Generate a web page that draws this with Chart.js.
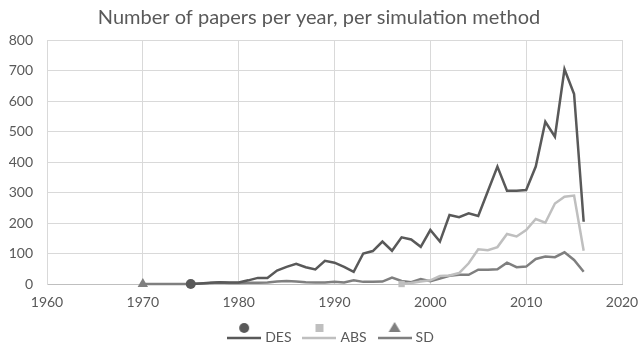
<!DOCTYPE html>
<html>
<head>
<meta charset="utf-8">
<script src="https://cdn.jsdelivr.net/npm/chart.js@4.4.1/dist/chart.umd.min.js"></script>
<style>
html,body{margin:0;padding:0;background:#fff;}
#wrap{width:638px;height:348px;}
</style>
</head>
<body>
<div id="wrap"><canvas id="c" width="638" height="348"></canvas></div>
<script>
const titleText = "Number of papers per year, per simulation method";
const seriesNames = ["DES", "ABS", "SD"];
const xTicks = [1960, 1970, 1980, 1990, 2000, 2010, 2020];
const yTicks = [0, 100, 200, 300, 400, 500, 600, 700, 800];

const desStartYear = 1975;
const desValues = [0,2,4,6,5,5,12,20,20,44,56,66,55,48,76,70,56,40,100,108,139,109,153,146,122,177,139,226,219,232,223,304,385,306,306,308,385,532,483,704,623,204];
const absStartYear = 1997;
const absValues = [0,3,8,12,26,28,36,68,114,111,121,164,156,177,213,201,264,286,290,109];
const sdStartYear = 1970;
const sdValues = [0,0,0,0,0,0,2,3,5,3,3,4,4,5,8,10,8,6,5,5,7,5,12,7,7,8,21,10,6,16,9,18,27,30,30,47,47,48,70,55,57,82,90,88,104,79,40];

const colors = ["#595959", "#bfbfbf", "#7f7f7f"];
const markers = ["circle", "rect", "triangle"];
const markerR = [5, 4.5, 6];

function toPoints(start, vals){ return vals.map((v,i)=>({x:start+i, y:v})); }

function legendIcon(color, marker){
  const c = document.createElement('canvas');
  c.width = 34; c.height = 30;
  const g = c.getContext('2d');
  g.strokeStyle = color; g.lineWidth = 2.5;
  g.beginPath(); g.moveTo(0, 16); g.lineTo(34, 16); g.stroke();
  g.fillStyle = color;
  g.beginPath();
  if (marker === 'circle') { g.arc(17, 6, 5, 0, Math.PI*2); }
  else if (marker === 'rect') { g.rect(13, 2, 8, 8); }
  else { g.moveTo(17, 0); g.lineTo(23, 10); g.lineTo(11, 10); g.closePath(); }
  g.fill();
  return c;
}

const data = [toPoints(desStartYear, desValues), toPoints(absStartYear, absValues), toPoints(sdStartYear, sdValues)];

const datasets = seriesNames.map((n, i) => ({
  label: n,
  data: data[i],
  borderColor: colors[i],
  backgroundColor: colors[i],
  borderWidth: 2.5,
  pointStyle: markers[i],
  pointRadius: ctx => ctx.dataIndex === 0 ? markerR[i] : 0,
  pointHoverRadius: 0,
  pointBorderWidth: 0,
  tension: 0,
  clip: false
}));

const font = "Lato, 'Open Sans', sans-serif";

const layoutFix = {
  id: 'layoutFix',
  beforeLayout(chart) {
    const lg = chart.legend;
    if (lg && !lg._patched) {
      const f = lg.fit;
      lg.fit = function(){ f.call(this); this.height = 34; };
      lg._patched = true;
    }
  },
  afterLayout(chart) {
    const lg = chart.legend;
    if (lg) { lg.left += 13; lg.right += 13; lg.top += 2; lg.bottom += 2; }
  }
};

new Chart(document.getElementById('c'), {
  type: 'line',
  data: { datasets },
  plugins: [layoutFix],
  options: {
    responsive: false,
    animation: false,
    events: [],
    layout: { padding: { left: 0, right: 0, top: 0, bottom: 0 } },
    plugins: {
      title: {
        display: true, text: titleText, color: "#595959",
        font: { family: font, size: 20, weight: 'normal' },
        padding: { top: 6, bottom: 10 }
      },
      legend: {
        position: 'bottom',
        labels: {
          usePointStyle: true,
          pointStyleWidth: 28,
          color: "#595959",
          font: { family: font, size: 14 },
          padding: 14,
          generateLabels: chart => chart.data.datasets.map((d, i) => ({
            text: d.label, fillStyle: colors[i], strokeStyle: colors[i],
            pointStyle: legendIcon(colors[i], markers[i]), lineWidth: 0,
            hidden: false, datasetIndex: i, fontColor: "#595959"
          }))
        }
      },
      tooltip: { enabled: false }
    },
    scales: {
      x: {
        type: 'linear', min: xTicks[0], max: xTicks[xTicks.length-1],
        afterBuildTicks: s => { s.ticks = xTicks.map(v => ({value: v})); },
        afterFit: s => { s.height = 30; s.paddingRight = 16; s.paddingLeft = 0; },
        ticks: { color: "#595959", font: { family: font, size: 14 }, padding: 10, callback: v => String(v), maxRotation: 0 },
        grid: { color: "#d9d9d9", drawTicks: false },
        border: { color: "#bfbfbf" }
      },
      y: {
        min: yTicks[0], max: yTicks[yTicks.length-1],
        afterBuildTicks: s => { s.ticks = yTicks.map(v => ({value: v})); },
        afterFit: s => { s.width = 47; },
        ticks: { color: "#595959", font: { family: font, size: 14 }, padding: 14, callback: v => String(v) },
        grid: { color: "#d9d9d9", drawTicks: false },
        border: { color: "#d9d9d9" }
      }
    }
  }
});
</script>
</body>
</html>
